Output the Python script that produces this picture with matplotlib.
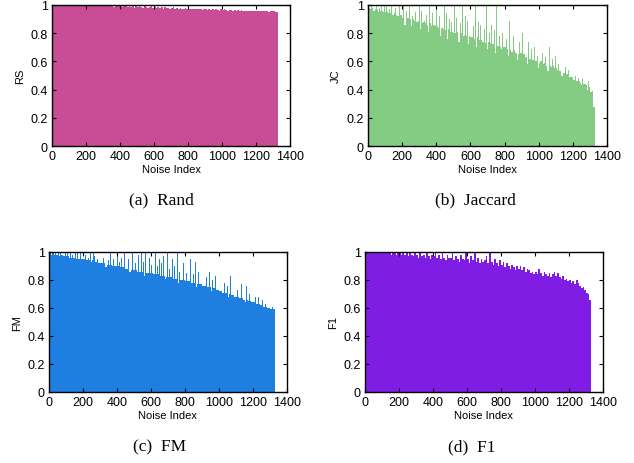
# LIBRARIES

import numpy as np
import matplotlib
matplotlib.use("Agg")
import matplotlib.pyplot as plt


# DATA
# bulk level per block of 10 noise indices, plus thin spikes (index, value),
# all read off the picture

step = 10

rs = [
    1.00, 1.00, 1.00, 1.00, 1.00, 1.00, 1.00, 1.00, 1.00, 1.00,
    1.00, 1.00, 1.00, 0.995, 1.00, 1.00, 1.00, 1.00, 0.995, 1.00,
    1.00, 0.995, 1.00, 1.00, 0.99, 1.00, 0.995, 1.00, 0.99, 1.00,
    0.995, 0.99, 1.00, 0.99, 0.995, 0.99, 0.985, 0.995, 0.99, 0.99,
    0.99, 0.985, 0.99, 0.995, 0.985, 0.99, 0.985, 0.99, 0.98, 0.99,
    0.985, 0.99, 0.985, 0.98, 0.99, 0.985, 0.98, 0.985, 0.99, 0.98,
    0.985, 0.98, 0.985, 0.98, 0.985, 0.975, 0.985, 0.98, 0.98, 0.975,
    0.98, 0.985, 0.975, 0.98, 0.975, 0.98, 0.975, 0.97, 0.98, 0.975,
    0.975, 0.97, 0.975, 0.97, 0.975, 0.97, 0.97, 0.975, 0.965, 0.97,
    0.97, 0.965, 0.97, 0.965, 0.97, 0.965, 0.97, 0.965, 0.96, 0.97,
    0.965, 0.97, 0.965, 0.96, 0.965, 0.965, 0.96, 0.965, 0.96, 0.965,
    0.96, 0.965, 0.96, 0.96, 0.96, 0.955, 0.96, 0.96, 0.955, 0.96,
    0.96, 0.955, 0.96, 0.955, 0.955, 0.955, 0.955, 0.95, 0.955, 0.955,
    0.955, 0.95, 0.95,
]
rs_spikes = []

jc = [
    0.98, 0.97, 0.98, 0.96, 0.97, 0.97, 0.95, 0.96, 0.96, 0.95,
    0.95, 0.95, 0.94, 0.94, 0.93, 0.94, 0.93, 0.92, 0.88, 0.93,
    0.91, 0.86, 0.90, 0.91, 0.90, 0.85, 0.90, 0.89, 0.88, 0.89,
    0.83, 0.87, 0.88, 0.87, 0.86, 0.81, 0.87, 0.85, 0.86, 0.85,
    0.85, 0.84, 0.78, 0.84, 0.83, 0.82, 0.76, 0.83, 0.81, 0.81,
    0.80, 0.80, 0.81, 0.74, 0.80, 0.78, 0.79, 0.78, 0.72, 0.78,
    0.77, 0.77, 0.76, 0.70, 0.77, 0.75, 0.75, 0.74, 0.73, 0.69,
    0.74, 0.73, 0.72, 0.72, 0.66, 0.71, 0.71, 0.70, 0.69, 0.70,
    0.70, 0.69, 0.64, 0.68, 0.67, 0.68, 0.66, 0.61, 0.65, 0.66,
    0.64, 0.65, 0.63, 0.58, 0.62, 0.62, 0.61, 0.62, 0.60, 0.55,
    0.59, 0.60, 0.58, 0.59, 0.57, 0.53, 0.57, 0.56, 0.57, 0.55,
    0.55, 0.54, 0.53, 0.50, 0.52, 0.52, 0.51, 0.50, 0.49, 0.49,
    0.47, 0.48, 0.46, 0.46, 0.45, 0.43, 0.44, 0.43, 0.40, 0.42,
    0.38, 0.39, 0.28,
]
jc_spikes = [
    (20, 1.00), (35, 0.99), (50, 1.00), (65, 0.98), (80, 1.00),
    (95, 1.00), (110, 0.99), (125, 0.97), (140, 1.00), (160, 0.98),
    (183, 1.00), (206, 1.00), (225, 0.96), (242, 1.00), (261, 0.92),
    (280, 0.95), (300, 1.00), (315, 0.96), (330, 0.89), (345, 0.93),
    (359, 1.00), (380, 0.94), (402, 1.00), (420, 0.92), (447, 1.00),
    (460, 0.94), (476, 0.90), (490, 0.88), (505, 1.00), (520, 0.91),
    (540, 0.87), (554, 1.00), (573, 0.92), (585, 0.89), (603, 0.84),
    (620, 0.85), (632, 1.00), (645, 0.88), (661, 0.86), (680, 0.83),
    (694, 1.00), (710, 0.80), (725, 0.86), (740, 0.82), (755, 1.00),
    (770, 0.78), (790, 0.80), (810, 0.76), (828, 0.89), (850, 0.78),
    (867, 0.86), (885, 0.74), (906, 0.80), (920, 0.72), (940, 0.74),
    (960, 0.69), (974, 0.70), (995, 0.64), (1020, 0.66), (1040, 0.63),
    (1062, 0.70), (1080, 0.62), (1097, 0.64), (1115, 0.58), (1136, 0.59),
    (1155, 0.56), (1175, 0.54), (1195, 0.50), (1215, 0.50), (1235, 0.48),
    (1257, 0.475), (1275, 0.44), (1292, 0.46), (1312, 0.39),
]

fm = [
    0.99, 0.98, 0.99, 0.98, 0.98, 0.98, 0.97, 0.98, 0.97, 0.97,
    0.97, 0.97, 0.96, 0.96, 0.96, 0.94, 0.95, 0.95, 0.95, 0.95,
    0.95, 0.94, 0.94, 0.94, 0.93, 0.94, 0.93, 0.93, 0.93, 0.92,
    0.92, 0.92, 0.92, 0.89, 0.91, 0.91, 0.91, 0.90, 0.90, 0.90,
    0.90, 0.89, 0.89, 0.89, 0.88, 0.88, 0.88, 0.86, 0.87, 0.87,
    0.87, 0.87, 0.86, 0.86, 0.86, 0.86, 0.83, 0.85, 0.85, 0.85,
    0.85, 0.84, 0.84, 0.84, 0.84, 0.83, 0.83, 0.83, 0.81, 0.82,
    0.82, 0.82, 0.82, 0.81, 0.81, 0.81, 0.78, 0.80, 0.80, 0.80,
    0.79, 0.79, 0.79, 0.78, 0.78, 0.78, 0.75, 0.77, 0.77, 0.77,
    0.76, 0.76, 0.76, 0.75, 0.75, 0.72, 0.74, 0.74, 0.73, 0.73,
    0.72, 0.72, 0.71, 0.71, 0.71, 0.68, 0.70, 0.69, 0.69, 0.68,
    0.68, 0.68, 0.67, 0.67, 0.66, 0.64, 0.66, 0.65, 0.65, 0.64,
    0.64, 0.64, 0.63, 0.63, 0.62, 0.60, 0.61, 0.61, 0.60, 0.60,
    0.59, 0.55, 0.59,
]
fm_spikes = [
    (10, 1.00), (25, 1.00), (40, 0.99), (55, 1.00), (70, 1.00),
    (95, 1.00), (110, 0.99), (125, 1.00), (140, 0.98), (155, 0.99),
    (170, 0.99), (185, 1.00), (200, 0.97), (215, 0.98), (230, 0.96),
    (245, 1.00), (260, 0.99), (270, 0.97), (285, 0.95), (300, 0.98),
    (320, 0.96), (335, 1.00), (350, 0.94), (364, 1.00), (380, 0.95),
    (402, 1.00), (415, 0.93), (425, 0.96), (444, 1.00), (470, 0.95),
    (493, 1.00), (510, 0.92), (525, 0.98), (542, 1.00), (555, 0.93),
    (570, 1.00), (590, 0.96), (605, 0.91), (625, 1.00), (640, 0.90),
    (650, 0.95), (660, 0.92), (672, 0.97), (696, 1.00), (710, 0.88),
    (725, 0.95), (740, 0.90), (755, 1.00), (770, 0.86), (790, 0.92),
    (810, 0.85), (833, 0.95), (850, 0.84), (862, 0.93), (880, 0.86),
    (906, 0.90), (925, 0.82), (945, 0.86), (960, 0.80), (980, 0.83),
    (1000, 0.78), (1030, 0.78), (1050, 0.76), (1068, 0.83), (1094, 0.78),
    (1110, 0.73), (1133, 0.77), (1160, 0.76), (1180, 0.70), (1200, 0.70),
    (1215, 0.68), (1230, 0.68), (1254, 0.66), (1275, 0.63), (1294, 0.65),
    (1313, 0.61),
]

f1 = [
    1.00, 1.00, 0.99, 1.00, 1.00, 0.99, 1.00, 1.00, 0.99, 1.00,
    1.00, 0.99, 1.00, 0.99, 1.00, 0.98, 1.00, 0.99, 0.98, 1.00,
    0.99, 0.98, 1.00, 0.98, 0.99, 0.97, 1.00, 0.98, 0.97, 0.99,
    0.98, 0.96, 1.00, 0.97, 0.98, 0.96, 0.99, 0.97, 0.95, 0.98,
    0.97, 1.00, 0.96, 0.98, 0.95, 0.99, 0.96, 0.94, 0.98, 0.96,
    0.96, 1.00, 0.94, 0.97, 0.95, 0.93, 0.98, 0.95, 0.94, 1.00,
    0.95, 0.92, 0.97, 0.94, 1.00, 0.93, 0.96, 0.92, 0.95, 0.93,
    0.94, 0.97, 0.92, 1.00, 0.93, 0.91, 0.95, 0.92, 0.90, 0.94,
    0.91, 0.93, 0.89, 0.92, 0.90, 0.88, 0.91, 0.89, 0.87, 0.90,
    0.88, 0.90, 0.87, 0.89, 0.86, 0.88, 0.87, 0.85, 0.86, 0.84,
    0.86, 0.84, 0.88, 0.85, 0.83, 0.86, 0.84, 0.83, 0.85, 0.82,
    0.84, 0.86, 0.83, 0.85, 0.82, 0.81, 0.83, 0.80, 0.81, 0.79,
    0.80, 0.78, 0.79, 0.77, 0.80, 0.78, 0.76, 0.74, 0.75, 0.73,
    0.71, 0.70, 0.66,
]
f1_spikes = []

series = [rs, jc, fm, f1]
spikes = [rs_spikes, jc_spikes, fm_spikes, f1_spikes]
ylabels = ["RS", "JC", "FM", "F1"]
captions = ["(a)  Rand", "(b)  Jaccard", "(c)  FM", "(d)  F1"]
colors = ["#C84C96", "#84CC84", "#1F7FE1", "#7F1DE5"]
xticks = [0, 200, 400, 600, 800, 1000, 1200, 1400]
yticks = [0, 0.2, 0.4, 0.6, 0.8, 1]
yticklabels = ["0", "0.2", "0.4", "0.6", "0.8", "1"]


# LAYOUT (pixel boxes of the four panels, 634x464 figure)

W, H = 634, 464
boxes = [(52, 6, 238, 141), (368, 6, 239, 141),
         (49, 253, 238, 140), (365, 253, 238, 140)]
caption_pos = [(161, 200), (475, 200), (160, 447), (472, 447)]

plt.rcParams["font.family"] = "Liberation Sans"

fig = plt.figure(figsize=(W / 100, H / 100), dpi=100)

for i, vals in enumerate(series):
    x0, y0, w, h = boxes[i]
    ax = fig.add_axes([x0 / W, 1 - (y0 + h) / H, w / W, h / H])
    idx = np.arange(len(vals)) * step
    ax.bar(idx, vals, width=step, align="edge", color=colors[i],
           linewidth=0, antialiased=False)
    if spikes[i]:
        sx = [s[0] for s in spikes[i]]
        sv = [s[1] for s in spikes[i]]
        ax.bar(sx, sv, width=5, color=colors[i], linewidth=0)
    ax.set_xlim(0, 1400)
    ax.set_ylim(0, 1)
    ax.set_xticks(xticks)
    ax.set_yticks(yticks)
    ax.set_yticklabels(yticklabels)
    ax.tick_params(direction="in", top=True, right=True, length=3,
                   width=0.8, labelsize=9, pad=3)
    for sp in ax.spines.values():
        sp.set_linewidth(1.0)
    ax.set_xlabel("Noise Index", fontsize=8, labelpad=1)
    ax.set_ylabel(ylabels[i], fontsize=8, labelpad=4)
    cx, cy = caption_pos[i]
    fig.text(cx / W, 1 - cy / H, captions[i], ha="center", va="center",
             family="Liberation Serif", fontsize=12.5)

fig.savefig("out.png", dpi=100)
